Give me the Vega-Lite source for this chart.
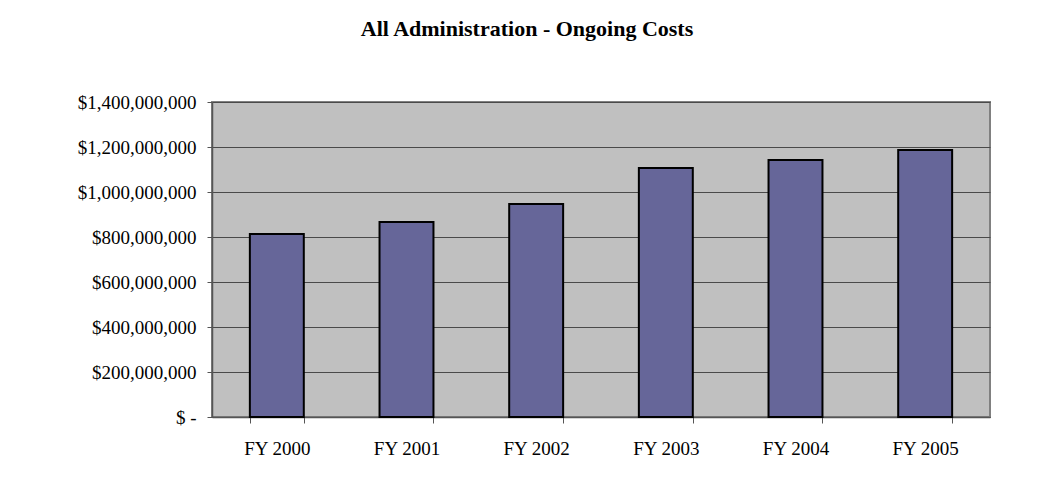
{
  "$schema": "https://vega.github.io/schema/vega-lite/v6.json",
  "autosize": {"type": "none"},
  "width": 778,
  "height": 315,
  "padding": {"left": 212, "top": 102, "right": 70, "bottom": 75},
  "background": "white",
  "title": {
    "text": "All Administration - Ongoing Costs",
    "font": "Liberation Serif",
    "fontSize": 22,
    "fontWeight": "bold",
    "color": "black",
    "anchor": "middle",
    "dx": -74,
    "offset": 52
  },
  "data": {
    "values": [
      {"year": "FY 2000", "cost": 813000000},
      {"year": "FY 2001", "cost": 867000000},
      {"year": "FY 2002", "cost": 947000000},
      {"year": "FY 2003", "cost": 1107000000},
      {"year": "FY 2004", "cost": 1142000000},
      {"year": "FY 2005", "cost": 1187000000}
    ]
  },
  "mark": {"type": "bar", "fill": "#666699", "stroke": "black", "strokeWidth": 2},
  "encoding": {
    "x": {
      "field": "year",
      "type": "nominal",
      "sort": null,
      "scale": {"paddingInner": 0.584, "paddingOuter": 0.292},
      "axis": {
        "title": null,
        "labelAngle": 0,
        "labelFont": "Liberation Serif",
        "labelFontSize": 19,
        "labelColor": "black",
        "labelPadding": 16,
        "tickBand": "extent",
        "tickSize": 6,
        "tickColor": "#555555",
        "domainColor": "#555555",
        "domainWidth": 1.5,
        "grid": false
      }
    },
    "y": {
      "field": "cost",
      "type": "quantitative",
      "scale": {"domain": [0, 1400000000], "nice": false},
      "axis": {
        "title": null,
        "values": [0, 200000000, 400000000, 600000000, 800000000, 1000000000, 1200000000, 1400000000],
        "labelExpr": "datum.value == 0 ? '$ -' : '$' + format(datum.value, ',')",
        "labelFont": "Liberation Serif",
        "labelFontSize": 19,
        "labelColor": "black",
        "labelPadding": 11,
        "tickSize": 5,
        "tickColor": "#555555",
        "domainColor": "#555555",
        "domainWidth": 1.5,
        "grid": true,
        "gridColor": "#4a4a4a",
        "gridWidth": 1.2
      }
    }
  },
  "config": {
    "view": {"fill": "#C0C0C0", "stroke": "#808080", "strokeWidth": 2}
  }
}
